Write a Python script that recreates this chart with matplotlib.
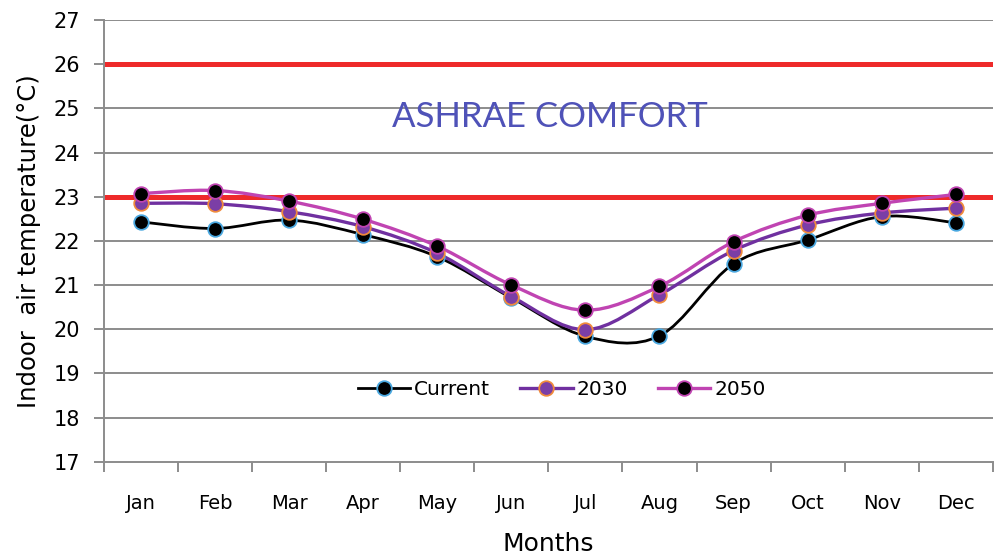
import numpy as np
import matplotlib
matplotlib.use("Agg")
import matplotlib.pyplot as plt
from matplotlib.path import Path
from matplotlib.patches import PathPatch
from matplotlib.lines import Line2D

months = ['Jan', 'Feb', 'Mar', 'Apr', 'May', 'Jun', 'Jul', 'Aug', 'Sep', 'Oct', 'Nov', 'Dec']
current = [22.43, 22.28, 22.47, 22.14, 21.64, 20.71, 19.84, 19.85, 21.48, 22.02, 22.55, 22.41]
y2030 = [22.85, 22.84, 22.66, 22.32, 21.72, 20.74, 19.99, 20.78, 21.78, 22.36, 22.63, 22.74]
y2050 = [23.07, 23.14, 22.90, 22.49, 21.88, 21.00, 20.43, 20.97, 21.98, 22.58, 22.85, 23.05]
comfort_low = 23.0
comfort_high = 26.0

plt.rcParams['font.family'] = ['DejaVu Sans']


def smooth_path(xs, ys):
    # excel-style smoothed line: bezier segments, tension 1/6
    pts = np.column_stack([xs, ys]).astype(float)
    n = len(pts)
    verts = [pts[0]]
    codes = [Path.MOVETO]
    for i in range(n - 1):
        p0 = pts[i - 1] if i > 0 else pts[i]
        p1 = pts[i]
        p2 = pts[i + 1]
        p3 = pts[i + 2] if i + 2 < n else pts[i + 1]
        c1 = p1 + (p2 - p0) / 6.0
        c2 = p2 - (p3 - p1) / 6.0
        verts += [c1, c2, p2]
        codes += [Path.CURVE4] * 3
    return Path(verts, codes)


fig = plt.figure(figsize=(10.02, 5.55), dpi=100)
ax = fig.add_axes([0.1038, 0.168, 0.887, 0.796])

grid_col = '#8c8c8c'
x = np.arange(len(months))

ax.set_xlim(-0.5, 11.5)
ax.set_ylim(17, 27)
ax.set_yticks(range(17, 28))
for v in range(18, 28):
    ax.axhline(v, color=grid_col, lw=1.4, zorder=1)

ax.axhline(comfort_high, color='#ee2a2a', lw=3.6, zorder=2)
ax.axhline(comfort_low, color='#ee2a2a', lw=3.6, zorder=2)

series = [
    ('Current', current, 'black', 'black', '#4aa8e0', 2.0),
    ('2030', y2030, '#7030a0', '#7b3ea6', '#f08a3c', 2.4),
    ('2050', y2050, '#c044b2', 'black', '#c044b2', 2.4),
]
handles = []
for name, vals, lc, mfc, mec, lw in series:
    ax.add_patch(PathPatch(smooth_path(x, vals), facecolor='none', edgecolor=lc, lw=lw, zorder=3))
    ax.plot(x, vals, ls='none', marker='o', ms=10.5, mfc=mfc, mec=mec, mew=1.3, zorder=4)
    handles.append(Line2D([], [], color=lc, lw=lw, marker='o', ms=10.5, mfc=mfc, mec=mec, mew=1.3))

ax.text(5.52, 24.8, 'ASHRAE COMFORT', color='#4f52b8', fontsize=25, family='Lato',
        ha='center', va='center', zorder=5)

ax.legend(handles, ['Current', '2030', '2050'], loc='center', bbox_to_anchor=(0.515, 0.163),
          ncol=3, frameon=False, fontsize=14.5, handlelength=2.6, columnspacing=1.5, handletextpad=0.2)

ax.set_xticks(x)
ax.set_xticklabels(months)
ax.set_xticks(np.arange(-0.5, 12, 1), minor=True)
ax.tick_params(axis='x', which='major', length=0, pad=23, labelsize=14)
ax.tick_params(axis='x', which='minor', length=7, width=1.4, color=grid_col)
ax.tick_params(axis='y', length=7, width=1.4, color=grid_col, pad=10, labelsize=15)

for side in ['top', 'right']:
    ax.spines[side].set_visible(False)
for side in ['left', 'bottom']:
    ax.spines[side].set_color(grid_col)
    ax.spines[side].set_linewidth(1.4)

ax.set_ylabel('Indoor  air temperature(°C)', fontsize=17.5, labelpad=9)
ax.set_xlabel('Months', fontsize=18, labelpad=14)

fig.savefig('out.png', dpi=100)
